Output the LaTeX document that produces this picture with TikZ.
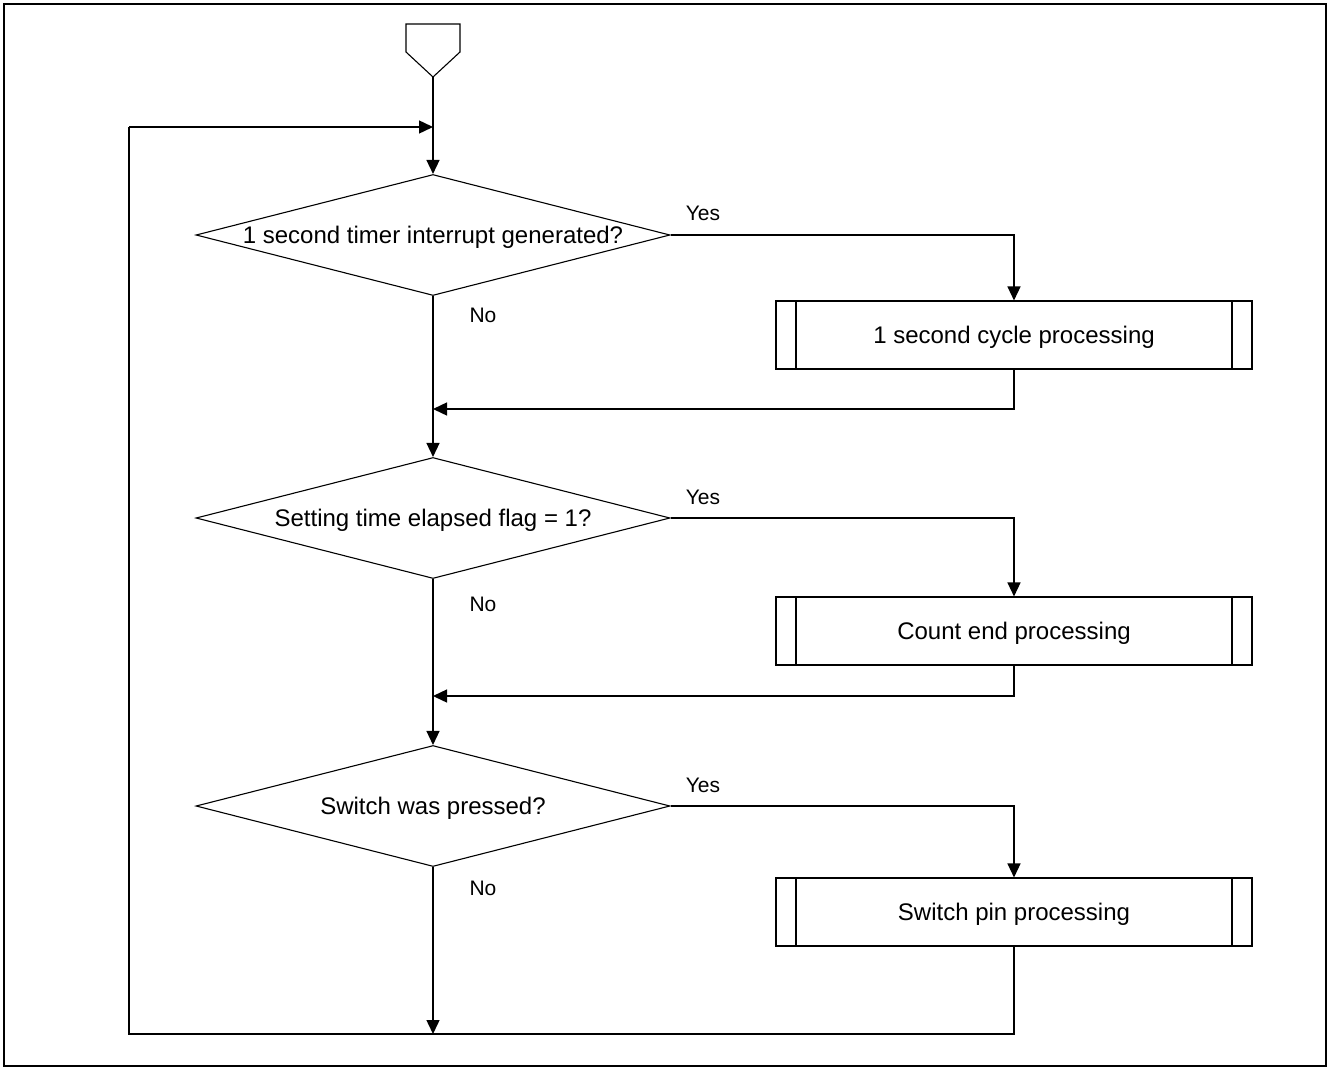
\documentclass[tikz,border=0pt]{standalone}
\usepackage{fontspec}
\setmainfont{Liberation Sans}
\usetikzlibrary{shapes.geometric,arrows.meta}

\tikzset{
  flow/.style={line width=1.4pt},
  arr/.style={flow,-{Triangle[length=14pt,width=13pt]}},
  txt/.style={font=\fontsize{24}{28}\selectfont,text height=19pt,text depth=2pt},
  decision/.style={draw,line width=1.1pt,shape=diamond,inner sep=0pt,
    minimum width=474pt,minimum height=121pt,txt},
  subproc/.style={draw,line width=1.1pt,rectangle,inner sep=0pt,
    minimum width=476pt,minimum height=68pt,txt,
    path picture={
      \draw[line width=1.1pt]
        ([xshift=20pt]path picture bounding box.north west) --
        ([xshift=20pt]path picture bounding box.south west)
        ([xshift=-20pt]path picture bounding box.north east) --
        ([xshift=-20pt]path picture bounding box.south east);
    }},
  lbl/.style={inner sep=0pt,font=\fontsize{21}{25}\selectfont},
}

\begin{document}
\begin{tikzpicture}[x=1pt,y=-1pt]
\useasboundingbox (0,0) rectangle (1330,1068);
% outer frame
\draw[line width=2.2pt] (4,4) rectangle (1326,1066);

% start connector
\draw[line width=1.1pt] (406,24) -- (460,24) -- (460,52) -- (433,77)
  coordinate (st) -- (406,52) -- cycle;

% decisions
\node[decision] (d1) at (433,235) {\makebox[0pt]{1 second timer interrupt generated?}};
\node[decision] (d2) at (433,518) {\makebox[0pt]{Setting time elapsed flag = 1?}};
\node[decision] (d3) at (433,806) {\makebox[0pt]{Switch was pressed?}};

% sub-processes
\node[subproc] (p1) at (1014,335) {1 second cycle processing};
\node[subproc] (p2) at (1014,631) {Count end processing};
\node[subproc] (p3) at (1014,912) {Switch pin processing};

% junction points on the main line
\coordinate (jtop) at (433,127);
\coordinate (j1) at (433,409);
\coordinate (j2) at (433,696);
\coordinate (j3) at (433,1034);
\coordinate (loopL) at (129,1034);
\coordinate (loopT) at (129,127);

% main line
\draw[flow] (st) -- (jtop);
\draw[arr] (jtop) -- (d1.north);
\draw[arr] (d1.south) -- (j1) -- (d2.north);
\draw[arr] (d2.south) -- (j2) -- (d3.north);
\draw[arr] (d3.south) -- (j3);

% yes branches
\draw[arr] (d1.east) -| (p1.north);
\draw[arr] (d2.east) -| (p2.north);
\draw[arr] (d3.east) -| (p3.north);

% returns
\draw[arr] (p1.south) |- (j1);
\draw[arr] (p2.south) |- (j2);
\draw[flow] (p3.south) |- (j3) -- (loopL) -- (loopT);
\draw[arr] (loopT) -- (jtop);

% branch labels
\node[lbl] (y1) at (703,213) {Yes};
\node[lbl] (n1) at (483,315) {No};
\node[lbl] (y2) at (703,497) {Yes};
\node[lbl] (n2) at (483,604) {No};
\node[lbl] (y3) at (703,785) {Yes};
\node[lbl] (n3) at (483,888) {No};
\end{tikzpicture}
\end{document}
